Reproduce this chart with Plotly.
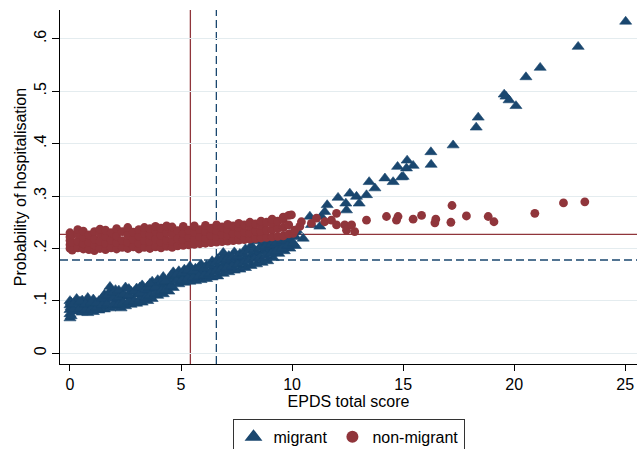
import plotly.graph_objects as go

# ---- data ----
migrant_x = [
    0.0, 0.0, 0.0, 0.0, 0.0, 0.05, 0.05, 0.05, 0.3, 0.3, 0.3, 0.55, 0.55, 0.55,
    0.8, 0.8, 0.8, 0.8, 1.05, 1.05, 1.05, 1.3, 1.3, 1.3, 1.55, 1.55, 1.55,
    1.8, 1.8, 1.8, 1.8, 2.05, 2.05, 2.05, 2.05, 2.3, 2.3, 2.3, 2.5, 2.5, 2.5,
    2.75, 2.75, 2.75, 3.0, 3.0, 3.0, 3.25, 3.25, 3.25, 3.25, 3.5, 3.5, 3.5,
    3.7, 3.7, 3.7, 3.95, 3.95, 3.95, 3.95, 4.2, 4.2, 4.2, 4.45, 4.45, 4.45,
    4.65, 4.65, 4.65, 4.9, 4.9, 4.9, 5.15, 5.15, 5.15, 5.4, 5.4, 5.4,
    5.65, 5.65, 5.65, 5.9, 5.9, 5.9, 6.15, 6.15, 6.15, 6.4, 6.4, 6.4,
    6.65, 6.65, 6.65, 6.9, 6.9, 6.9, 6.9, 7.15, 7.15, 7.15, 7.4, 7.4, 7.4,
    7.65, 7.65, 7.65, 7.9, 7.9, 7.9, 8.15, 8.15, 8.15, 8.4, 8.4, 8.4,
    8.65, 8.65, 8.65, 8.9, 8.9, 8.9, 9.15, 9.15, 9.15, 9.4, 9.4, 9.4,
    9.65, 9.65, 9.65, 9.9, 9.9, 9.9, 10.15, 10.15, 10.15,
    0.15, 0.15, 0.45, 0.45, 0.7, 0.7, 0.95, 0.95, 1.2, 1.2, 1.45, 1.45,
    1.7, 1.7, 1.95, 1.95, 1.95, 2.2, 2.2, 2.2, 2.4, 2.4, 2.65, 2.65, 2.65,
    2.9, 2.9, 3.15, 3.15, 3.15, 3.4, 3.4, 3.6, 3.6, 3.6, 3.85, 3.85,
    4.1, 4.1, 4.3, 4.3, 4.55, 4.55, 4.8, 4.8, 5.05, 5.05, 5.3, 5.3,
    5.55, 5.55, 5.8, 5.8, 6.05, 6.05, 6.3, 6.3, 6.55, 6.55, 6.8, 6.8,
    7.05, 7.05, 7.3, 7.3, 7.55, 7.55, 7.8, 7.8, 8.05, 8.05, 8.3, 8.3,
    8.55, 8.55, 8.8, 8.8, 9.05, 9.05, 9.3, 9.3, 9.55, 9.55, 9.8, 9.8,
    10.05, 10.05,
    10.2, 10.5, 10.8, 10.87, 11.25, 11.32, 11.47, 11.58, 12.07, 12.42, 12.45,
    12.6, 12.9, 13.02, 13.35, 13.47, 13.73, 14.18, 14.55, 14.75, 14.93, 15.0,
    15.15, 15.18, 15.45, 16.25, 16.26, 17.25, 18.29, 18.38, 19.55, 19.63,
    19.77, 20.08, 20.53, 21.17, 22.88, 25.02,
]
migrant_y = [
    0.067, 0.075, 0.083, 0.092, 0.100, 0.071, 0.088, 0.097, 0.080, 0.095, 0.104,
    0.078, 0.090, 0.101, 0.077, 0.086, 0.099, 0.106, 0.079, 0.093, 0.103,
    0.082, 0.089, 0.100, 0.084, 0.098, 0.112, 0.086, 0.105, 0.118, 0.127,
    0.088, 0.097, 0.112, 0.121, 0.086, 0.101, 0.115, 0.090, 0.108, 0.126,
    0.093, 0.104, 0.118, 0.095, 0.112, 0.124, 0.097, 0.108, 0.120, 0.130,
    0.100, 0.115, 0.128, 0.104, 0.121, 0.137, 0.110, 0.118, 0.130, 0.140,
    0.113, 0.126, 0.146, 0.118, 0.133, 0.142, 0.125, 0.138, 0.155,
    0.132, 0.145, 0.157, 0.135, 0.148, 0.160, 0.137, 0.152, 0.166,
    0.138, 0.150, 0.162, 0.140, 0.156, 0.170, 0.142, 0.155, 0.168,
    0.145, 0.160, 0.176, 0.147, 0.165, 0.180, 0.152, 0.168, 0.185, 0.192,
    0.155, 0.172, 0.186, 0.158, 0.175, 0.193, 0.160, 0.178, 0.190,
    0.163, 0.182, 0.199, 0.167, 0.186, 0.205, 0.170, 0.190, 0.214,
    0.173, 0.193, 0.208, 0.176, 0.196, 0.212, 0.182, 0.200, 0.215,
    0.190, 0.205, 0.218, 0.195, 0.210, 0.222, 0.200, 0.215, 0.226,
    0.205, 0.222, 0.232,
    0.084, 0.094, 0.086, 0.099, 0.083, 0.094, 0.085, 0.097, 0.087, 0.096,
    0.092, 0.105, 0.095, 0.110, 0.093, 0.104, 0.116, 0.094, 0.107, 0.120,
    0.097, 0.112, 0.099, 0.111, 0.123, 0.100, 0.118, 0.103, 0.114, 0.126,
    0.106, 0.122, 0.110, 0.125, 0.133, 0.114, 0.126, 0.119, 0.135,
    0.121, 0.138, 0.128, 0.148, 0.138, 0.150, 0.140, 0.153, 0.143, 0.158,
    0.145, 0.157, 0.147, 0.163, 0.149, 0.162, 0.152, 0.168, 0.156, 0.172,
    0.160, 0.176, 0.163, 0.179, 0.166, 0.183, 0.169, 0.185, 0.172, 0.190,
    0.176, 0.195, 0.180, 0.198, 0.183, 0.201, 0.186, 0.204, 0.190, 0.207,
    0.195, 0.211, 0.200, 0.215, 0.205, 0.219, 0.210, 0.225,
    0.235, 0.219, 0.261, 0.245, 0.242, 0.261, 0.270, 0.283, 0.297, 0.286, 0.273,
    0.305, 0.299, 0.286, 0.302, 0.327, 0.315, 0.334, 0.327, 0.356, 0.336, 0.337,
    0.353, 0.368, 0.358, 0.384, 0.360, 0.397, 0.431, 0.450, 0.494, 0.490,
    0.483, 0.472, 0.527, 0.545, 0.585, 0.633,
]

nonmigrant_x = [
    0.0, 0.0, 0.0, 0.0, 0.0, 0.1, 0.1, 0.1, 0.35, 0.35, 0.35, 0.35,
    0.6, 0.6, 0.6, 0.6, 0.85, 0.85, 0.85, 1.1, 1.1, 1.1, 1.1,
    1.35, 1.35, 1.35, 1.35, 1.6, 1.6, 1.6, 1.6, 1.85, 1.85, 1.85,
    2.1, 2.1, 2.1, 2.1, 2.35, 2.35, 2.35, 2.6, 2.6, 2.6, 2.6,
    2.85, 2.85, 2.85, 3.1, 3.1, 3.1, 3.1, 3.35, 3.35, 3.35, 3.35,
    3.6, 3.6, 3.6, 3.6, 3.85, 3.85, 3.85, 3.85, 4.1, 4.1, 4.1, 4.1,
    4.35, 4.35, 4.35, 4.35, 4.6, 4.6, 4.6, 4.6, 4.85, 4.85, 4.85,
    5.1, 5.1, 5.1, 5.1, 5.35, 5.35, 5.35, 5.6, 5.6, 5.6, 5.6,
    5.85, 5.85, 5.85, 6.1, 6.1, 6.1, 6.1, 6.35, 6.35, 6.35,
    6.6, 6.6, 6.6, 6.6, 6.85, 6.85, 6.85, 7.1, 7.1, 7.1, 7.1,
    7.35, 7.35, 7.35, 7.6, 7.6, 7.6, 7.6, 7.85, 7.85, 7.85,
    8.1, 8.1, 8.1, 8.1, 8.35, 8.35, 8.35, 8.6, 8.6, 8.6, 8.6,
    8.85, 8.85, 8.85, 9.1, 9.1, 9.1, 9.1, 9.35, 9.35, 9.35,
    9.6, 9.6, 9.6, 9.6, 9.85, 9.85, 9.85,
    9.97, 10.05, 10.12, 10.35, 10.42, 10.87, 11.1, 11.47, 11.77, 12.0, 12.0,
    12.37, 12.45, 12.68, 12.82, 13.35, 14.25, 14.7, 14.77, 15.45, 15.83,
    16.43, 16.47, 17.15, 17.2, 17.85, 18.83, 19.09, 20.93, 22.22, 23.18,
]
nonmigrant_y = [
    0.200, 0.207, 0.215, 0.222, 0.230, 0.197, 0.211, 0.226,
    0.201, 0.214, 0.228, 0.236, 0.199, 0.209, 0.221, 0.233,
    0.198, 0.212, 0.226, 0.196, 0.207, 0.218, 0.232,
    0.200, 0.214, 0.229, 0.237, 0.198, 0.210, 0.223, 0.235,
    0.201, 0.216, 0.230, 0.199, 0.211, 0.224, 0.238,
    0.202, 0.215, 0.232, 0.200, 0.212, 0.226, 0.240,
    0.203, 0.217, 0.231, 0.199, 0.210, 0.223, 0.236,
    0.202, 0.215, 0.229, 0.240, 0.200, 0.213, 0.226, 0.238,
    0.203, 0.218, 0.233, 0.242, 0.201, 0.212, 0.225, 0.239,
    0.204, 0.216, 0.230, 0.243, 0.202, 0.214, 0.228, 0.241,
    0.205, 0.219, 0.234, 0.206, 0.217, 0.229, 0.242,
    0.207, 0.221, 0.235, 0.208, 0.218, 0.231, 0.243,
    0.209, 0.222, 0.236, 0.210, 0.220, 0.232, 0.244,
    0.211, 0.225, 0.239, 0.212, 0.223, 0.234, 0.245,
    0.213, 0.227, 0.241, 0.214, 0.225, 0.236, 0.246,
    0.215, 0.229, 0.243, 0.216, 0.228, 0.240, 0.248,
    0.217, 0.231, 0.245, 0.218, 0.230, 0.242, 0.250,
    0.219, 0.233, 0.247, 0.220, 0.232, 0.244, 0.252,
    0.221, 0.235, 0.250, 0.222, 0.236, 0.248, 0.256,
    0.223, 0.238, 0.252, 0.224, 0.240, 0.255, 0.260,
    0.228, 0.245, 0.263,
    0.264, 0.229, 0.235, 0.242, 0.251, 0.248, 0.258, 0.251, 0.254, 0.245, 0.267,
    0.245, 0.235, 0.245, 0.232, 0.254, 0.261, 0.254, 0.261, 0.256, 0.263,
    0.249, 0.256, 0.250, 0.282, 0.262, 0.261, 0.251, 0.267, 0.287, 0.289,
]

# reference lines: mean probability (horizontal) and mean score (vertical)
hline_vals = {"non-migrant": 0.227, "migrant": 0.178}
vline_vals = {"non-migrant": 5.42, "migrant": 6.59}

y_ticks = [0, 0.1, 0.2, 0.3, 0.4, 0.5, 0.6]
y_tick_labels = ["0", ".1", ".2", ".3", ".4", ".5", ".6"]
x_ticks = [0, 5, 10, 15, 20, 25]

NAVY = "#1a476f"
MAROON = "#90353b"
FONT = "Liberation Sans, Arial, sans-serif"

fig = go.Figure()
fig.add_trace(go.Scatter(
    x=migrant_x, y=migrant_y, mode="markers", name="migrant",
    marker=dict(symbol="triangle-up", size=10.5, color=NAVY,
                line=dict(width=0.6, color=NAVY)),
))
fig.add_trace(go.Scatter(
    x=nonmigrant_x, y=nonmigrant_y, mode="markers", name="non-migrant",
    marker=dict(symbol="circle", size=8.8, color=MAROON, line=dict(width=0)),
))

styles = {"non-migrant": (MAROON, "solid"), "migrant": (NAVY, "8px,4px")}
for key, val in hline_vals.items():
    col, dash = styles[key]
    fig.add_shape(type="line", xref="paper", x0=0, x1=1, yref="y", y0=val, y1=val,
                  line=dict(color=col, width=1.3, dash=dash), layer="below")
for key, val in vline_vals.items():
    col, dash = styles[key]
    fig.add_shape(type="line", yref="paper", y0=0, y1=1, xref="x", x0=val, x1=val,
                  line=dict(color=col, width=1.3, dash=dash), layer="below")

fig.update_layout(
    width=642, height=449,
    margin=dict(l=60, r=5, t=10, b=85, autoexpand=False),
    paper_bgcolor="white", plot_bgcolor="white",
    font=dict(family=FONT, size=16, color="black"),
    showlegend=True,
    legend=dict(orientation="h", x=0.5, xanchor="center", y=-0.155, yanchor="top",
                bordercolor="#333333", borderwidth=1, font=dict(size=16),
                itemsizing="constant", itemwidth=30, tracegroupgap=0),
)
fig.update_xaxes(
    range=[-0.45, 25.53], tickvals=x_ticks, ticks="outside", ticklen=6,
    tickcolor="black", showline=True, linecolor="black", linewidth=1,
    showgrid=False, zeroline=False, tickfont=dict(size=16), automargin=False,
    title=dict(text="EPDS total score", font=dict(size=16), standoff=1),
)
fig.update_yaxes(
    range=[-0.0204, 0.655], tickvals=y_ticks, ticktext=y_tick_labels,
    tickangle=-90, ticks="outside", ticklen=7, tickcolor="black",
    showline=True, linecolor="black", linewidth=1,
    showgrid=True, gridcolor="#e4ecef", gridwidth=1, zeroline=False,
    tickfont=dict(size=16), automargin=False,
    title=dict(text="Probability of hospitalisation", font=dict(size=16), standoff=0),
)

fig.write_html(
    "out.html",
    config={"displayModeBar": False},
    post_script="document.body.style.margin='0';document.body.style.overflow='hidden';",
)
